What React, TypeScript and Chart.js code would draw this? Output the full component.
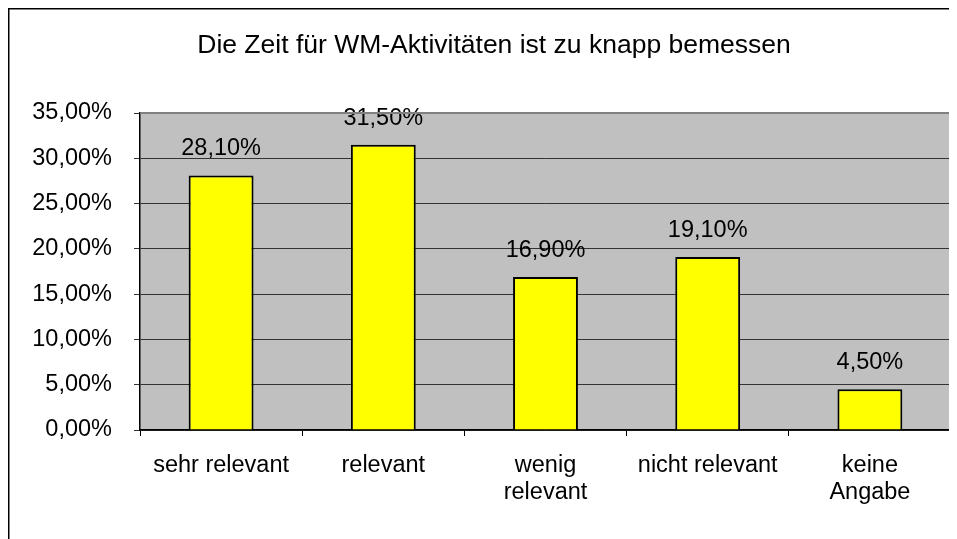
import React, { useEffect, useRef } from "react";
import { Chart, registerables } from "chart.js";

Chart.register(...registerables);

const title = "Die Zeit für WM-Aktivitäten ist zu knapp bemessen";
const categories: (string | string[])[] = [
  "sehr relevant",
  "relevant",
  ["wenig", "relevant"],
  "nicht relevant",
  ["keine", "Angabe"],
];
const values = [28.1, 31.5, 16.9, 19.1, 4.5];
const yMax = 35;
const yStep = 5;

const FONT = "'Liberation Sans', Arial, sans-serif";
const fmt = (v: number) => v.toFixed(2).replace(".", ",") + "%";

const framePlugin = {
  id: "frame",
  beforeDraw(chart: any) {
    const { ctx, chartArea, width, height } = chart;
    ctx.save();
    ctx.fillStyle = "#ffffff";
    ctx.fillRect(0, 0, width, height);
    ctx.strokeStyle = "#000000";
    ctx.lineWidth = 1.5;
    ctx.beginPath();
    ctx.moveTo(0.75, height);
    ctx.lineTo(0.75, 0.75);
    ctx.lineTo(width, 0.75);
    ctx.stroke();
    ctx.fillStyle = "#c0c0c0";
    ctx.fillRect(chartArea.left, chartArea.top, chartArea.right - chartArea.left, chartArea.bottom - chartArea.top);
    ctx.fillStyle = "#000000";
    ctx.font = `26.5px ${FONT}`;
    ctx.textAlign = "center";
    ctx.textBaseline = "alphabetic";
    ctx.fillText(title, 486, 45);
    ctx.restore();
  },
  afterDraw(chart: any) {
    const { ctx, chartArea } = chart;
    ctx.save();
    ctx.strokeStyle = "#808080";
    ctx.lineWidth = 2;
    ctx.beginPath();
    ctx.moveTo(chartArea.left, chartArea.top);
    ctx.lineTo(chartArea.right, chartArea.top);
    ctx.lineTo(chartArea.right, chartArea.bottom);
    ctx.stroke();
    ctx.restore();
  },
};

const labelPlugin = {
  id: "barLabels",
  afterDatasetsDraw(chart: any) {
    const { ctx } = chart;
    const meta = chart.getDatasetMeta(0);
    ctx.save();
    ctx.fillStyle = "#000000";
    ctx.font = `23.5px ${FONT}`;
    ctx.textAlign = "center";
    ctx.textBaseline = "alphabetic";
    meta.data.forEach((bar: any, i: number) => {
      ctx.fillText(fmt(values[i]), bar.x, bar.y - 20);
    });
    ctx.restore();
  },
};

export default function App() {
  const ref = useRef<HTMLCanvasElement>(null);
  useEffect(() => {
    if (!ref.current) return;
    const chart = new Chart(ref.current, {
      type: "bar",
      data: {
        labels: categories,
        datasets: [
          {
            data: values,
            backgroundColor: "#ffff00",
            borderColor: "#000000",
            borderWidth: 2,
            barPercentage: 0.4,
            categoryPercentage: 1,
          },
        ],
      },
      options: {
        responsive: false,
        animation: false,
        layout: { padding: { top: 105, right: 6, left: 0, bottom: 0 } },
        plugins: { legend: { display: false }, tooltip: { enabled: false }, title: { display: false } },
        scales: {
          x: {
            offset: true,
            grid: {
              offset: true,
              drawOnChartArea: false,
              drawTicks: true,
              tickLength: 6,
              color: "#000000",
              lineWidth: 1,
            },
            border: { display: true, color: "#000000", width: 1.5 },
            ticks: {
              color: "#000000",
              font: { family: FONT, size: 23.5, lineHeight: 1.14 },
              padding: 16,
              maxRotation: 0,
              autoSkip: false,
            },
            afterFit(scale: any) {
              scale.height = 109;
            },
          },
          y: {
            min: 0,
            max: yMax,
            grid: {
              color: "#333333",
              lineWidth: 1,
              drawTicks: true,
              tickLength: 6,
            },
            border: { display: true, color: "#000000", width: 1.5 },
            ticks: {
              stepSize: yStep,
              color: "#000000",
              font: { family: FONT, size: 23.5 },
              padding: 22,
              callback: (v: any) => fmt(Number(v)),
            },
            afterFit(scale: any) {
              scale.width = 132;
            },
          },
        },
      },
      plugins: [framePlugin, labelPlugin],
    });
    return () => chart.destroy();
  }, []);
  return <canvas ref={ref} width={949} height={531} style={{ display: "block" }} />;
}
